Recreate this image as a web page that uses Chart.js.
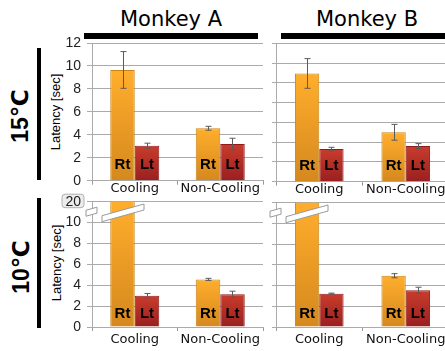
<!DOCTYPE html>
<html><head><meta charset="utf-8">
<script src="https://cdn.jsdelivr.net/npm/chart.js@4"></script>
<style>
html,body{margin:0;padding:0;background:#fff;overflow:hidden;}
#wrap{position:relative;width:445px;height:351px;overflow:hidden;}
canvas{position:absolute;}
.t{position:absolute;white-space:nowrap;color:#000;line-height:1;}
.blk{position:absolute;background:#000;}
</style></head><body>
<div id="wrap">
  <div class="t" style="left:171px;top:19px;transform:translate(-50%,-50%);font-family:'DejaVu Sans';font-size:21px;">Monkey A</div>
  <div class="t" style="left:367px;top:19px;transform:translate(-50%,-50%);font-family:'DejaVu Sans';font-size:21px;">Monkey B</div>
  <div class="blk" style="left:84px;top:33px;width:174px;height:5.5px;"></div>
  <div class="blk" style="left:281px;top:33px;width:170px;height:5.5px;"></div>
  <div class="blk" style="left:36.5px;top:48px;width:4.8px;height:132px;"></div>
  <div class="blk" style="left:36.5px;top:198px;width:4.8px;height:130px;"></div>
  <div class="t" style="left:20px;top:116px;transform:translate(-50%,-50%) rotate(-90deg);font-family:'Liberation Sans','DejaVu Sans';font-weight:bold;font-size:23px;">15℃</div>
  <div class="t" style="left:21px;top:267px;transform:translate(-50%,-50%) rotate(-90deg);font-family:'Liberation Sans','DejaVu Sans';font-weight:bold;font-size:23px;">10℃</div>
  <div class="t" style="left:55px;top:111.5px;transform:translate(-50%,-50%) rotate(-90deg);font-family:'Liberation Sans';font-size:13px;">Latency [sec]</div>
  <div class="t" style="left:55.5px;top:263px;transform:translate(-50%,-50%) rotate(-90deg);font-family:'Liberation Sans';font-size:13px;">Latency [sec]</div>
  <canvas id="ta" width="220" height="175" style="left:50px;top:28px;width:220px;height:175px;"></canvas>
  <canvas id="tb" width="225" height="175" style="left:230px;top:28px;width:225px;height:175px;"></canvas>
  <canvas id="ba" width="220" height="165" style="left:50px;top:186px;width:220px;height:165px;"></canvas>
  <canvas id="bb" width="225" height="165" style="left:230px;top:186px;width:225px;height:165px;"></canvas>
</div>
<script>
// ---- data ----
const categories = ['Cooling', 'Non-Cooling'];
const barLabels = ['Rt', 'Lt'];

const a15Rt = [9.65, 4.57];
const a15RtErr = [1.6, 0.17];
const a15Lt = [3.05, 3.2];
const a15LtErr = [0.22, 0.5];

const b15Rt = [10.95, 5.0];
const b15RtErr = [1.5, 0.8];
const b15Lt = [3.3, 3.6];
const b15LtErr = [0.18, 0.25];

const a10Rt = [20, 4.56];
const a10RtErr = [0, 0.1];
const a10Lt = [3.0, 3.13];
const a10LtErr = [0.21, 0.3];

const b10Rt = [20, 4.95];
const b10RtErr = [0, 0.2];
const b10Lt = [3.22, 3.54];
const b10LtErr = [0.05, 0.3];

const ticks15 = ['0', '2', '4', '6', '8', '10', '12'];
const ticks10 = ['0', '2', '4', '6', '8', '10', '20'];

// ---- helpers ----
function grad(top, bot) {
  return function (c) {
    const ch = c.chart, ca = ch.chartArea;
    if (!ca || c.raw == null) return top;
    const ys = ch.scales.y;
    const y0 = ys.getPixelForValue(0);
    const y1 = Math.max(ys.getPixelForValue(c.raw), ca.top);
    const g = ch.ctx.createLinearGradient(0, y1, 0, y0);
    g.addColorStop(0, top);
    g.addColorStop(1, bot);
    return g;
  };
}

const errPlugin = {
  id: 'err',
  afterDatasetsDraw(chart, args, o) {
    const ctx = chart.ctx, ys = chart.scales.y, ca = chart.chartArea;
    ctx.save();
    ctx.beginPath();
    ctx.rect(ca.left, ca.top - 1, ca.right - ca.left, ca.bottom - ca.top + 1);
    ctx.clip();
    ctx.strokeStyle = '#5a5a5a';
    ctx.lineWidth = 1;
    chart.data.datasets.forEach((ds, di) => {
      const meta = chart.getDatasetMeta(di);
      meta.data.forEach((el, i) => {
        const e = ds.errors[i], v = ds.data[i];
        if (!e) return;
        const yt = ys.getPixelForValue(v + e), yb = ys.getPixelForValue(v - e);
        const x = Math.round(el.x) + 0.5;
        ctx.beginPath();
        ctx.moveTo(x, yt); ctx.lineTo(x, yb);
        ctx.moveTo(x - 3, yt); ctx.lineTo(x + 3, yt);
        ctx.moveTo(x - 3, yb); ctx.lineTo(x + 3, yb);
        ctx.stroke();
      });
    });
    ctx.restore();
    // Rt / Lt labels
    ctx.save();
    ctx.font = 'bold 15px "Liberation Sans"';
    ctx.fillStyle = '#000';
    ctx.textAlign = 'center';
    ctx.textBaseline = 'middle';
    chart.data.datasets.forEach((ds, di) => {
      const meta = chart.getDatasetMeta(di);
      meta.data.forEach((el) => {
        ctx.fillText(ds.label, el.x, ca.bottom - o.labelOff);
      });
    });
    ctx.restore();
    // axis break
    if (o.brk) {
      const L = ca.left, T = ca.top;
      ctx.save();
      ctx.fillStyle = '#fff';
      ctx.strokeStyle = '#999';
      ctx.lineWidth = 1;
      const th = 6;
      const pieces = [[L - 6, T + 8.5, L + 5, T + 5.5], [L + 10, T + 14, L + 52, T + 2.3]];
      pieces.forEach(p => {
        ctx.beginPath();
        ctx.moveTo(p[0], p[1]);
        ctx.lineTo(p[2], p[3]);
        ctx.lineTo(p[2], p[3] + th);
        ctx.lineTo(p[0], p[1] + th);
        ctx.closePath();
        ctx.fill();
        ctx.stroke();
      });
      ctx.restore();
    }
  },
  beforeDraw(chart, args, o) {
    if (!o.box) return;
    const ctx = chart.ctx, ca = chart.chartArea, ys = chart.scales.y;
    const y = ys.getPixelForValue(ys.max);
    const xr = ca.left - 8, xl = xr - 22, yt = y - 7.5, h = 13.5;
    ctx.save();
    ctx.fillStyle = '#ececec';
    ctx.strokeStyle = '#b0b0b0';
    ctx.lineWidth = 1;
    ctx.beginPath();
    ctx.roundRect(xl, yt, 22, h, 3);
    ctx.fill();
    ctx.stroke();
    ctx.restore();
  }
};

function makeChart(id, rt, rtErr, lt, ltErr, cfg) {
  return new Chart(document.getElementById(id), {
    type: 'bar',
    data: {
      labels: categories,
      datasets: [
        { label: barLabels[0], data: rt, errors: rtErr,
          backgroundColor: grad('#ffae2c', '#d5881e'), borderColor: '#c98419', borderWidth: 1, clip: 0 },
        { label: barLabels[1], data: lt, errors: ltErr,
          backgroundColor: grad('#c93c2c', '#992020'), borderColor: '#8e1c1c', borderWidth: 1, clip: 0 }
      ]
    },
    options: {
      responsive: false,
      animation: false,
      events: [],
      categoryPercentage: cfg.catPct,
      barPercentage: 1.0,
      layout: { padding: { top: cfg.padTop, right: cfg.padRight, left: 0, bottom: 0 } },
      plugins: {
        legend: { display: false },
        tooltip: { enabled: false },
        err: { labelOff: cfg.labelOff, brk: cfg.brk, box: cfg.box }
      },
      scales: {
        x: {
          grid: { drawOnChartArea: false, tickLength: 4, color: '#999', offset: true },
          border: { color: '#aaa' },
          ticks: { font: { family: 'DejaVu Sans', size: 13 }, color: '#111', padding: cfg.xPad, maxRotation: 0, autoSkip: false },
          afterFit: s => { s.height = cfg.xH; }
        },
        y: {
          min: 0, max: cfg.yMax,
          ticks: {
            stepSize: 2, display: cfg.showTicks,
            font: { family: 'Liberation Sans', size: 14 }, color: '#222', padding: 6,
            callback: (v, i) => cfg.tickLabels ? cfg.tickLabels[i] : v
          },
          grid: { color: '#aaa', lineWidth: 1, tickLength: cfg.showTicks ? 5 : 4 },
          border: { color: '#aaa' },
          afterFit: s => { s.width = cfg.axisW; }
        }
      }
    },
    plugins: [errPlugin]
  });
}

makeChart('ta', a15Rt, a15RtErr, a15Lt, a15LtErr,
  { catPct: 0.573, padTop: 15, padRight: 7, xH: 22.3, xPad: -3.5, yMax: 12, showTicks: true, tickLabels: ticks15, axisW: 42, labelOff: 16 });
makeChart('tb', b15Rt, b15RtErr, b15Lt, b15LtErr,
  { catPct: 0.5625, padTop: 15.3, padRight: 6, xH: 21.3, xPad: -3.5, yMax: 14, showTicks: false, axisW: 46, labelOff: 16 });
makeChart('ba', a10Rt, a10RtErr, a10Lt, a10LtErr,
  { catPct: 0.573, padTop: 15.7, padRight: 7, xH: 24, xPad: 1.2, yMax: 12, showTicks: true, tickLabels: ticks10, axisW: 42, labelOff: 12.7, brk: true, box: true });
makeChart('bb', b10Rt, b10RtErr, b10Lt, b10LtErr,
  { catPct: 0.5625, padTop: 16.7, padRight: 6, xH: 24, xPad: 1.2, yMax: 12, showTicks: false, axisW: 46, labelOff: 12.7, brk: true });
</script>
</body></html>
